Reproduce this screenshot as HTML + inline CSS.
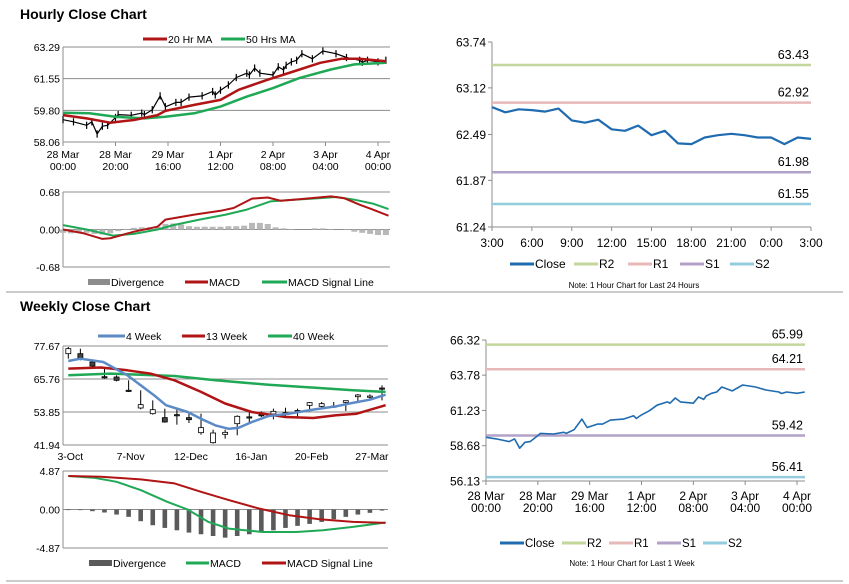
<!DOCTYPE html>
<html><head><meta charset="utf-8">
<style>
html,body{margin:0;padding:0;background:#fff;}
svg{display:block;font-family:"Liberation Sans",Arial,sans-serif;}
</style></head>
<body>
<svg id="s" width="849" height="584" viewBox="0 0 849 584" xmlns="http://www.w3.org/2000/svg">
<text x="20" y="19" font-size="14" font-weight="bold" fill="#000">Hourly Close Chart</text>
<text x="20" y="311" font-size="14" font-weight="bold" fill="#000">Weekly Close Chart</text>
<line x1="6" y1="292" x2="843" y2="292" stroke="#999" stroke-width="1"/>
<line x1="6" y1="581" x2="843" y2="581" stroke="#999" stroke-width="1"/>
</svg>
<script>
// ===== Data =====
const hourTicks=[0,20,40,60,80,100,120];
const hourTickLabels=[["28 Mar","00:00"],["28 Mar","20:00"],["29 Mar","16:00"],["1 Apr","12:00"],["2 Apr","08:00"],["3 Apr","04:00"],["4 Apr","00:00"]];
const weekHours=[0,4,9,11,13,15,17,20,21,26,30,31,34,37,39,43,45,48,53,57,58,60,63,66,70,71,73,75,80,82,84,85,87,89,91,95,99,104,108,113,114,116,120,123];
const weekClose=[59.29,59.17,58.98,59.17,58.5,58.93,58.98,59.41,59.57,59.53,59.65,59.57,59.84,60.6,60.0,60.24,60.24,60.53,60.6,60.84,60.65,60.91,61.2,61.61,61.85,61.75,62.13,61.85,61.75,62.2,62.03,62.28,62.47,62.56,62.92,62.64,63.07,62.92,62.71,62.56,62.45,62.56,62.47,62.56];
const ma20Hours=[0,9,18,27,36,39,50,60,67,78,86,98,106,113,123];
const ma20=[59.54,59.36,59.12,59.27,59.54,59.77,60.1,60.38,60.94,61.49,61.86,62.42,62.64,62.64,62.51];
const ma50Hours=[0,10,20,31,39,50,60,70,80,90,102,111,123];
const ma50=[59.67,59.64,59.45,59.36,59.45,59.64,60.01,60.56,61.03,61.58,62.05,62.33,62.42];
const hMacdHours=[0,8,15,18,27,36,39,50,60,65,72,78,83,90,102,107,113,118,124];
const hMacd=[0,-0.07,-0.17,-0.16,-0.04,0.05,0.18,0.27,0.34,0.39,0.56,0.58,0.52,0.55,0.6,0.57,0.45,0.36,0.25];
const hSigHours=[0,9,19,27,36,42,52,62,70,79,88,98,104,111,118,124];
const hSig=[0.08,0,-0.11,-0.08,0,0.08,0.18,0.27,0.36,0.51,0.54,0.57,0.59,0.54,0.47,0.37];
const hDivHours=[0,3,6,9,12,15,18,21,24,27,30,33,36,39,42,45,48,51,54,57,60,63,66,69,72,75,78,81,84,87,90,93,96,99,102,105,108,111,114,117,120,123];
const hDiv=[-0.06,-0.07,-0.05,-0.06,-0.08,-0.09,-0.07,-0.03,0.01,0.03,0.04,0.04,0.05,0.1,0.11,0.09,0.06,0.05,0.05,0.05,0.05,0.06,0.06,0.07,0.12,0.12,0.1,0.04,0.02,0.01,0,0,0.02,0.02,0.01,0,-0.01,-0.04,-0.06,-0.08,-0.1,-0.1];
const dayHours=[0,1,2,3,4,5,6,7,8,9,10,11,12,13,14,15,16,17,18,19,20,21,22,23,24];
const dayClose=[62.86,62.79,62.83,62.82,62.8,62.84,62.68,62.65,62.69,62.56,62.54,62.61,62.48,62.54,62.37,62.36,62.45,62.48,62.5,62.48,62.45,62.45,62.36,62.45,62.43];
const dayTickLabels=["3:00","6:00","9:00","12:00","15:00","18:00","21:00","0:00","3:00"];
const dayLevels=[63.43,62.92,61.98,61.55];
const weekLevels=[65.99,64.21,59.42,56.41];
const levelNames=["R2","R1","S1","S2"];
const levelColors=["#c3d69b","#e6b9b8","#b3a2c7","#93cddd"];
const wkOpen=[74.9,74.9,71.9,66.6,66.48,61.7,55.3,53.25,51.81,52.9,51.81,46.39,42.78,45.79,49.64,52.1,52.9,53.13,53.6,54.4,56.26,55.9,56.0,57.34,59.38,59.6,62.5];
const wkClose=[76.71,73.34,70.45,66.4,65.28,61.5,56.5,54.69,50.24,52.8,51.08,48.2,46.27,46.51,52.29,52.0,52.8,54.09,53.5,54.3,57.22,56.86,55.9,57.94,59.99,59.6,62.3];
const wkHigh=[77.31,76.71,72.5,70.09,67.08,65.28,61.67,58.06,55.05,55.05,53.85,53.25,47.47,47.47,52.65,53.85,54.09,55.05,55.41,55.05,57.46,57.46,57.46,57.94,60.35,60.23,63.47];
const wkLow=[73.1,72.5,70.09,65.88,64.92,61.07,54.81,52.89,50.0,49.28,49.88,45.67,42.42,44.23,45.43,50.0,52.05,51.2,51.69,52.05,54.45,55.41,55.3,54.21,57.7,58.66,58.06];
const wkTicks=[0,5,10,15,20,25];
const wkTickLabels=["3-Oct","7-Nov","12-Dec","16-Jan","20-Feb","27-Mar"];
const ma4W=[0,1,2.9,4.9,6,7.1,8.1,9.9,11,12.2,13.3,14.1,15.2,16.6,18.3,20.3,22.2,23.3,25,26.3];
const ma4=[72.26,73.1,71.9,67.1,63.5,59.9,56.3,53.85,51.4,49.0,47.8,48.1,50.2,52.4,53.25,54.7,55.9,56.9,58.3,60.1];
const ma13W=[0,2.7,4.9,6.8,8.8,11,13,15.2,18,20.3,22.2,23.9,26.3];
const ma13=[69.5,69.9,68.9,67.7,65.3,61.1,56.9,53.85,52.05,51.7,52.65,53.25,56.3];
const ma40W=[0,3.5,8.8,12.2,16.6,20.8,23.6,26.3];
const ma40=[67.1,67.7,66.85,65.3,63.7,62.5,61.7,61.1];
const wSigW=[0,2.7,6,8.8,11,13.3,15.8,18.3,20.8,23.6,26.3];
const wSig=[4.24,4.15,3.81,3.3,2.24,1.19,0.13,-0.72,-1.23,-1.57,-1.69];
const wMacdW=[0,2.1,4,6,8.2,9.9,11.6,13.3,16.1,18.9,21.1,23.6,26.3];
const wMacd=[4.24,4.02,3.5,2.46,0.97,0,-1.57,-2.41,-2.84,-2.84,-2.63,-2.2,-1.65];
const wDiv=[-0.08,-0.08,-0.21,-0.38,-0.64,-0.93,-1.48,-1.99,-2.33,-2.63,-2.92,-3.13,-3.35,-3.56,-3.35,-3.13,-2.92,-2.63,-2.33,-2.07,-1.82,-1.57,-1.23,-0.93,-0.64,-0.42,-0.13];

// ===== Helpers =====
const svg=document.getElementById('s');
const NS='http://www.w3.org/2000/svg';
function mk(tag,attrs,text){const e=document.createElementNS(NS,tag);for(const k in attrs)e.setAttribute(k,attrs[k]);if(text!==undefined)e.textContent=text;svg.appendChild(e);return e;}
function lin(d0,d1,r0,r1){return v=>r0+(v-d0)/(d1-d0)*(r1-r0);}
function pathD(xs,ys,sx,sy){return xs.map((x,i)=>(i?'L':'M')+sx(x).toFixed(1)+','+sy(ys[i]).toFixed(1)).join('');}
function yAxis(ticks,labels,sy,x0,x1,grid,name,fs){
  fs=fs||10.5;
  ticks.forEach((t,i)=>{
    if(grid){const g=mk('line',{x1:x0,x2:x1,y1:sy(t),y2:sy(t),stroke:'#8c8c8c','stroke-width':1});
      
      }
    else{const k=mk('line',{x1:x0-4,x2:x0,y1:sy(t),y2:sy(t),stroke:'#8c8c8c'});
      
      }
    const l=mk('text',{x:x0-(grid?3:6),y:sy(t)+fs*0.37,'font-size':fs,'text-anchor':'end',fill:'#000'},labels[i]);
    
    
  });
}
function vline(x,y0,y1,name){const a=mk('line',{x1:x,x2:x,y1:y0,y2:y1,stroke:'#8c8c8c'});
  
  }
function series(xs,ys,sx,sy,color,w,name){const p=mk('path',{d:pathD(xs,ys,sx,sy),fill:'none',stroke:color,'stroke-width':w,'stroke-linejoin':'round'});
  
  }
function legend(items,y,fs){fs=fs||10.5;items.forEach(it=>{
  if(it.box){const b=mk('rect',{x:it.x,y:y-3,width:it.w,height:6,fill:it.c});
    
    }
  else{const l=mk('line',{x1:it.x,x2:it.x+it.w,y1:y,y2:y,stroke:it.c,'stroke-width':3});
    
    }
  const t=mk('text',{x:it.x+it.w+1,y:y+4,'font-size':fs,fill:'#000'},it.t);
  
  
});}
function fmt(v){return v.toFixed(2);}

// ===== Hourly price chart (top-left) =====
(function(){
  const sx=lin(0,120,63,378), sy=lin(58.06,63.29,142,47);
  const ticks=[58.06,59.80,61.55,63.29];
  yAxis(ticks,ticks.map(fmt),sy,63,390,true,'hourly-y');
  vline(63,47,142,'hourly-y-axis');
  hourTicks.forEach((h,i)=>{const x=sx(h);
    const k=mk('line',{x1:x,x2:x,y1:142,y2:146,stroke:'#8c8c8c'});
    
    
    const t=mk('text',{x:x,y:158,'font-size':10.5,'text-anchor':'middle'});
    
    
    t.innerHTML='<tspan x="'+x+'">'+hourTickLabels[i][0]+'</tspan><tspan x="'+x+'" dy="12">'+hourTickLabels[i][1]+'</tspan>';
  });
  weekHours.forEach((h,i)=>{const x=sx(h),v=weekClose[i];
    const c=mk('line',{x1:x,x2:x,y1:sy(v+0.2),y2:sy(v-0.2),stroke:'#000','stroke-width':1.2});
    
    
  });
  series(weekHours,weekClose,sx,sy,'#000',1.2,'hourly-price-line');
  series(ma50Hours,ma50,sx,sy,'#1fa855',2.5,'ma50-line');
  series(ma20Hours,ma20,sx,sy,'#b01414',2.5,'ma20-line');
  legend([{x:143,w:24,c:'#b01414',t:'20 Hr MA'},{x:221,w:24,c:'#1fa855',t:'50 Hrs MA'}],39);
})();

// ===== Hourly MACD =====
(function(){
  const sx=lin(0,120,63,378), sy=lin(-0.68,0.68,267,192);
  const ticks=[-0.68,0,0.68];
  yAxis(ticks,ticks.map(fmt),sy,63,390,true,'hourly-macd-y');
  vline(63,192,267,'hourly-macd-y-axis');
  hDivHours.forEach((h,i)=>{const v=hDiv[i];
    const b=mk('rect',{x:sx(h)-3,y:Math.min(sy(v),sy(0)),width:6,height:Math.abs(sy(v)-sy(0)),fill:'#b8b8b8'});
    
    
  });
  series(hSigHours,hSig,sx,sy,'#1fa855',2,'hourly-signal-line');
  series(hMacdHours,hMacd,sx,sy,'#b01414',2,'hourly-macd-line');
  legend([{x:88,w:22,c:'#8c8c8c',t:'Divergence',box:1},{x:185,w:23,c:'#b01414',t:'MACD'},{x:262,w:25,c:'#1fa855',t:'MACD Signal Line'}],282);
})();

// ===== Levels chart helper =====
function levelChart(xs,ys,xd,x0,x1,yd,y0,y1,ticks,levels,name,xEnd){
  const sx=lin(xd[0],xd[1],x0,x1), sy=lin(yd[0],yd[1],y0,y1);
  const xe=xEnd||x1;
  yAxis(ticks,ticks.map(fmt),sy,x0,xe,false,name+'-y',12);
  vline(x0,y1,y0,name+'-y-axis');
  const xa=mk('line',{x1:x0,x2:xe,y1:y0,y2:y0,stroke:'#8c8c8c'});
  
  
  levels.forEach((lv,i)=>{
    const l=mk('line',{x1:x0,x2:xe,y1:sy(lv),y2:sy(lv),stroke:levelColors[i],'stroke-width':2.5});
    
    
    const t=mk('text',{x:xe-2,y:sy(lv)-6,'font-size':12.5,'text-anchor':'end'},fmt(lv));
    
    
  });
  series(xs,ys,sx,sy,'#1f6bb0',name==='day'?2.2:1.6,name+'-close-line');
  return sx;
}

// ===== Right top: 24 hours =====
(function(){
  const sx=levelChart(dayHours,dayClose,[0,24],492,811,[61.24,63.74],227,42,[61.24,61.87,62.49,63.12,63.74],dayLevels,'day');
  dayTickLabels.forEach((lb,i)=>{const x=sx(i*3);
    const k=mk('line',{x1:x,x2:x,y1:227,y2:231,stroke:'#8c8c8c'});
    
    
    const t=mk('text',{x:x,y:247,'font-size':12,'text-anchor':'middle'},lb);
    
    
  });
  legend([{x:510,w:24,c:'#1f6bb0',t:'Close'},{x:574,w:24,c:levelColors[0],t:'R2'},{x:628,w:24,c:levelColors[1],t:'R1'},{x:680,w:24,c:levelColors[2],t:'S1'},{x:730,w:24,c:levelColors[3],t:'S2'}],264,12);
  const n=mk('text',{x:634,y:288,'font-size':8,'text-anchor':'middle'},'Note: 1 Hour Chart for Last 24 Hours');
  
  
})();

// ===== Right bottom: 1 week =====
(function(){
  const sx=levelChart(weekHours,weekClose,[0,120],486,797,[56.13,66.32],481,340,[56.13,58.68,61.23,63.78,66.32],weekLevels,'week',805);
  hourTicks.forEach((h,i)=>{const x=sx(h);
    const k=mk('line',{x1:x,x2:x,y1:481,y2:485,stroke:'#8c8c8c'});
    
    
    const t=mk('text',{x:x,y:500,'font-size':12,'text-anchor':'middle'});
    
    
    t.innerHTML='<tspan x="'+x+'">'+hourTickLabels[i][0]+'</tspan><tspan x="'+x+'" dy="12">'+hourTickLabels[i][1]+'</tspan>';
  });
  legend([{x:500,w:24,c:'#1f6bb0',t:'Close'},{x:562,w:24,c:levelColors[0],t:'R2'},{x:609,w:24,c:levelColors[1],t:'R1'},{x:657,w:24,c:levelColors[2],t:'S1'},{x:703,w:24,c:levelColors[3],t:'S2'}],543,11.5);
  const n=mk('text',{x:632,y:566,'font-size':8,'text-anchor':'middle'},'Note: 1 Hour Chart for Last 1 Week');
  
  
})();

// ===== Weekly price chart =====
(function(){
  const sx=lin(0,26,68.3,382), sy=lin(41.94,77.67,445,346);
  const ticks=[41.94,53.85,65.76,77.67];
  yAxis(ticks,ticks.map(fmt),sy,63,388,true,'weekly-y');
  vline(63,346,445,'weekly-y-axis');
  wkTicks.forEach((w,i)=>{const t=mk('text',{x:sx(w)+2,y:460,'font-size':10.5,'text-anchor':'middle'},wkTickLabels[i]);
    
    });
  wkOpen.forEach((o,i)=>{const x=sx(i),c=wkClose[i];
    const w=mk('line',{x1:x,x2:x,y1:sy(wkHigh[i]),y2:sy(wkLow[i]),stroke:'#000'});
    
    
    const top=sy(Math.max(o,c)),h=Math.max(1.2,Math.abs(sy(o)-sy(c)));
    const b=mk('rect',{x:x-2.5,y:top,width:5,height:h,fill:c>=o?'#fff':'#444',stroke:'#000','stroke-width':0.8});
    
    
  });
  series(ma40W,ma40,sx,sy,'#1fa855',2.5,'ma40-line');
  series(ma13W,ma13,sx,sy,'#b01414',2.5,'ma13-line');
  series(ma4W,ma4,sx,sy,'#5b8ac6',2.5,'ma4-line');
  legend([{x:98,w:27,c:'#5b8ac6',t:'4 Week'},{x:182,w:23,c:'#b01414',t:'13 Week'},{x:268,w:24,c:'#1fa855',t:'40 Week'}],336);
})();

// ===== Weekly MACD =====
(function(){
  const sx=lin(0,26,68.3,382), sy=lin(-4.87,4.87,548,471);
  const ticks=[-4.87,0,4.87];
  yAxis(ticks,ticks.map(fmt),sy,63,388,true,'weekly-macd-y');
  vline(63,471,548,'weekly-macd-y-axis');
  wDiv.forEach((v,i)=>{
    const b=mk('rect',{x:sx(i)-2.3,y:Math.min(sy(v),sy(0)),width:4.6,height:Math.abs(sy(v)-sy(0)),fill:'#5a5a5a'});
    
    
  });
  series(wMacdW,wMacd,sx,sy,'#1fa855',2,'weekly-macd-line');
  series(wSigW,wSig,sx,sy,'#b01414',2,'weekly-signal-line');
  legend([{x:89,w:23,c:'#5a5a5a',t:'Divergence',box:1},{x:186,w:23,c:'#1fa855',t:'MACD'},{x:262,w:24,c:'#b01414',t:'MACD Signal Line'}],563);
})();
</script>
</body></html>
